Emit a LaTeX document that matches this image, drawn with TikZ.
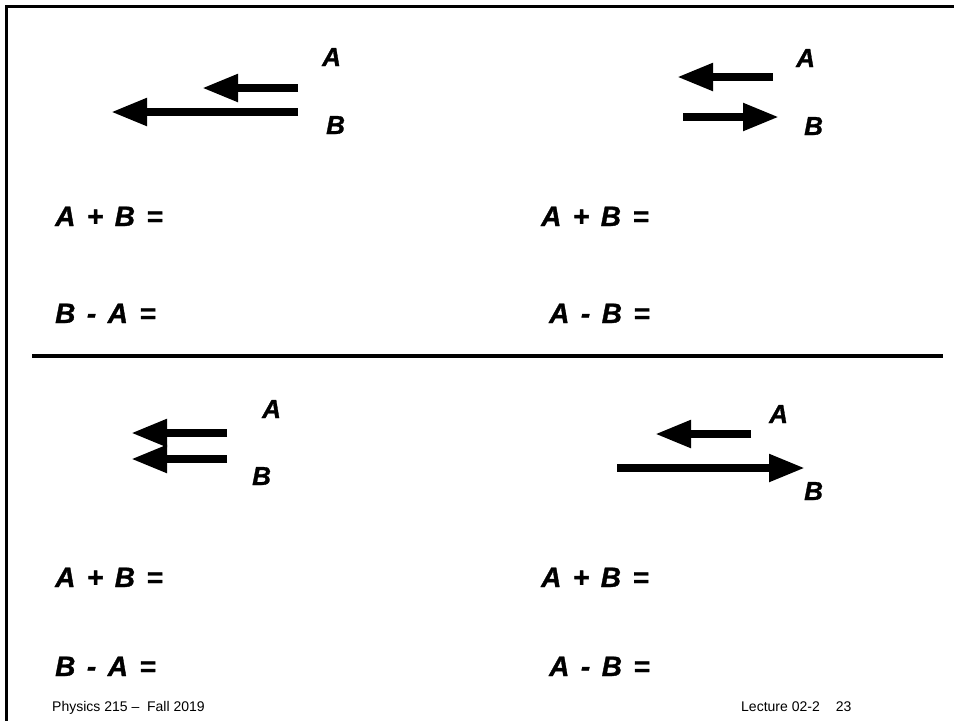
\documentclass[tikz,border=0pt]{standalone}
\usepackage{fontspec}
\setmainfont{Liberation Sans}[BoldItalicFeatures={FakeBold=1.2}]
\usetikzlibrary{arrows.meta}
\newcommand{\eqgap}{\hspace{11.5pt}}
\begin{document}
\begin{tikzpicture}[x=1pt,y=-1pt,
  vec/.style={line width=8pt,-{Triangle[length=36pt,width=26pt]}},
  big/.style={font=\fontsize{28}{28}\selectfont\bfseries\itshape,anchor=base west,inner sep=0pt},
  lab/.style={font=\fontsize{26}{26}\selectfont\bfseries\itshape,anchor=base west,inner sep=0pt},
  foot/.style={font=\fontsize{14}{14}\selectfont,anchor=base west,inner sep=0pt},
  rule/.style={line width=3pt}]
\useasboundingbox (0,0) rectangle (954,721);
% frame
\coordinate (fr1) at (954,6.5);
\coordinate (fr2) at (6.5,6.5);
\coordinate (fr3) at (6.5,721);
\draw[rule] (fr1) -- (fr2) -- (fr3);
\coordinate (s1) at (32,355.5);
\coordinate (s2) at (943,355.5);
\draw[line width=4pt] (s1) -- (s2);
% top-left
\coordinate (tlA1) at (298,88); \coordinate (tlA2) at (202,88);
\coordinate (tlB1) at (298,112); \coordinate (tlB2) at (111,112);
\draw[vec] (tlA1) -- (tlA2);
\draw[vec] (tlB1) -- (tlB2);
\node[lab] (tlA) at (322,66) {A};
\node[lab] (tlB) at (326,134) {B};
\node[big] (tle1) at (55,226) {A\eqgap+\eqgap B\eqgap=};
\node[big] (tle2) at (55,323) {B\eqgap-\eqgap A\eqgap=};
% top-right
\coordinate (trA1) at (773,77); \coordinate (trA2) at (677,77);
\coordinate (trB1) at (683,117); \coordinate (trB2) at (779,117);
\draw[vec] (trA1) -- (trA2);
\draw[vec] (trB1) -- (trB2);
\node[lab] (trA) at (796,67) {A};
\node[lab] (trB) at (804,135) {B};
\node[big] (tre1) at (541,226) {A\eqgap+\eqgap B\eqgap=};
\node[big] (tre2) at (549,323) {A\eqgap-\eqgap B\eqgap=};
% bottom-left
\coordinate (blA1) at (227,433); \coordinate (blA2) at (131,433);
\coordinate (blB1) at (227,459); \coordinate (blB2) at (131,459);
\draw[vec] (blA1) -- (blA2);
\draw[vec] (blB1) -- (blB2);
\node[lab] (blA) at (262,418) {A};
\node[lab] (blB) at (252,485) {B};
\node[big] (ble1) at (55,587) {A\eqgap+\eqgap B\eqgap=};
\node[big] (ble2) at (55,676) {B\eqgap-\eqgap A\eqgap=};
% bottom-right
\coordinate (brA1) at (751,434); \coordinate (brA2) at (655,434);
\coordinate (brB1) at (617,468); \coordinate (brB2) at (805,468);
\draw[vec] (brA1) -- (brA2);
\draw[vec] (brB1) -- (brB2);
\node[lab] (brA) at (769,423) {A};
\node[lab] (brB) at (804,500) {B};
\node[big] (bre1) at (541,587) {A\eqgap+\eqgap B\eqgap=};
\node[big] (bre2) at (549,676) {A\eqgap-\eqgap B\eqgap=};
% footer
\node[foot] (f1) at (52,711) {Physics 215 -- \ Fall 2019};
\node[foot] (f2) at (741,711) {Lecture 02-2\hspace{16pt}23};
\end{tikzpicture}
\end{document}
